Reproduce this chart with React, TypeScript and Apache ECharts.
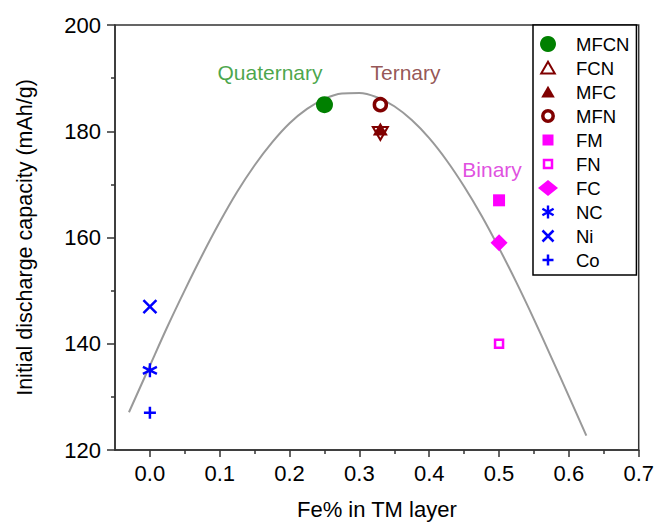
import React, { useEffect, useRef } from 'react';
import * as echarts from 'echarts';

// ---------- data ----------
const seriesNames = ['MFCN', 'FCN', 'MFC', 'MFN', 'FM', 'FN', 'FC', 'NC', 'Ni', 'Co'];
const feFraction = [0.25, 0.33, 0.33, 0.33, 0.5, 0.5, 0.5, 0, 0, 0];
const capacity = [185, 180, 180, 185, 167, 140, 159, 135, 147, 127];

// guide curve
const curveX = [
  -0.03, 0, 0.025, 0.05, 0.075, 0.1, 0.125, 0.15, 0.175, 0.2, 0.225, 0.25, 0.275, 0.3,
  0.325, 0.35, 0.375, 0.4, 0.425, 0.45, 0.475, 0.5, 0.525, 0.55, 0.575, 0.6, 0.625,
];
const curveY = [
  127.1, 135.9, 143.2, 150.1, 156.7, 162.9, 168.6, 173.6, 177.9, 181.5, 184.2, 186.1, 187.1, 187.2,
  186.4, 184.7, 182.1, 178.7, 174.5, 169.6, 164.1, 158.0, 151.5, 144.6, 137.4, 130.1, 122.7,
];

const annotationText = ['Quaternary', 'Ternary', 'Binary'];
const annotationX = [0.172, 0.366, 0.49];
const annotationY = [191, 191, 172.8];

const xMajorTicks = [0, 0.1, 0.2, 0.3, 0.4, 0.5, 0.6, 0.7];
const xMinorTicks = [0.05, 0.15, 0.25, 0.35, 0.45, 0.55, 0.65];
const yTicks = [120, 140, 160, 180, 200];

// ---------- styles ----------
const FONT = '"Liberation Sans", Arial, Helvetica, sans-serif';
const AXIS = '#333333';
const GREEN = '#008000';
const MAROON = '#800000';
const MAGENTA = '#ff00ff';
const BLUE = '#0000ff';
const CLEAR = 'rgba(255,255,255,0)';

const ASTERISK = 'path://M0,-10L0,10M-8.66,-5L8.66,5M-8.66,5L8.66,-5';
const CROSS = 'path://M-1,-1L1,1M-1,1L1,-1';
const PLUS = 'path://M0,-1L0,1M-1,0L1,0';

// legend icons drawn inside a 16x16 box (the leading moves fix the box)
const BOX = 'M0,0M16,16';
const legendIcons: Record<string, string> = {
  MFCN: 'circle',
  FCN: `path://${BOX}M8,1.8L14.8,13.6L1.2,13.6Z`,
  MFC: `path://${BOX}M8,1.8L14.8,13.6L1.2,13.6Z`,
  MFN: `path://${BOX}M13.2,8A5.2,5.2,0,1,1,2.8,8A5.2,5.2,0,1,1,13.2,8Z`,
  FM: `path://${BOX}M2.5,2.5L13.5,2.5L13.5,13.5L2.5,13.5Z`,
  FN: `path://${BOX}M4,4L12,4L12,12L4,12Z`,
  FC: 'diamond',
  NC: `path://${BOX}M8,1.5L8,14.5M2.4,4.8L13.6,11.2M2.4,11.2L13.6,4.8`,
  Ni: `path://${BOX}M2.5,2.5L13.5,13.5M2.5,13.5L13.5,2.5`,
  Co: `path://${BOX}M8,2.5L8,13.5M2.5,8L13.5,8`,
};

const markerStyles: Record<string, any> = {
  MFCN: { symbol: 'circle', size: 17, fill: GREEN, stroke: GREEN, bw: 0 },
  FCN: { symbol: 'triangle', size: [15, 13], rotate: 180, offset: [0, 2.2], fill: CLEAR, stroke: MAROON, bw: 2 },
  MFC: { symbol: 'triangle', size: [15, 13], offset: [0, -2.2], fill: MAROON, stroke: MAROON, bw: 0 },
  MFN: { symbol: 'circle', size: 12, fill: '#ffffff', stroke: MAROON, bw: 3.5 },
  FM: { symbol: 'rect', size: 12, fill: MAGENTA, stroke: MAGENTA, bw: 0 },
  FN: { symbol: 'rect', size: 8, fill: '#ffffff', stroke: MAGENTA, bw: 2.5 },
  FC: { symbol: 'diamond', size: 17, fill: MAGENTA, stroke: MAGENTA, bw: 0 },
  NC: { symbol: ASTERISK, size: 14, fill: CLEAR, stroke: BLUE, bw: 2.4 },
  Ni: { symbol: CROSS, size: 13, fill: CLEAR, stroke: BLUE, bw: 2.5 },
  Co: { symbol: PLUS, size: 12, fill: CLEAR, stroke: BLUE, bw: 2.5 },
};
const annotationColors = ['#1a8f1a', '#7a2a2a', '#d822d8'];

function buildOption(): any {
  const pointSeries = seriesNames.map((name, i) => {
    const s = markerStyles[name];
    return {
      name,
      type: 'scatter',
      data: [[feFraction[i], capacity[i]]],
      symbol: s.symbol,
      symbolSize: s.size,
      symbolRotate: s.rotate || 0,
      symbolOffset: s.offset || [0, 0],
      itemStyle: { color: s.fill, borderColor: s.stroke, borderWidth: s.bw, opacity: 1 },
      emphasis: { disabled: true },
      z: 3,
    };
  });

  return {
    animation: false,
    backgroundColor: '#ffffff',
    textStyle: { fontFamily: FONT },
    grid: {
      left: 115,
      right: 17,
      top: 25,
      bottom: 72.5,
      show: true,
      borderColor: AXIS,
      borderWidth: 1.5,
      backgroundColor: 'transparent',
    },
    legend: {
      data: seriesNames.map((name) => ({ name, icon: legendIcons[name] })),
      orient: 'vertical',
      left: 533,
      top: 25,
      padding: [7, 7, 3, 5],
      itemWidth: 20,
      itemHeight: 16,
      itemGap: 0,
      borderColor: '#000',
      borderWidth: 1.5,
      backgroundColor: '#ffffff',
      selectedMode: false,
      itemStyle: { borderWidth: 'inherit' },
      textStyle: {
        fontSize: 18.5,
        color: '#000',
        fontFamily: FONT,
        lineHeight: 24,
        padding: [0, 0, 0, 13],
      },
    },
    xAxis: [
      {
        type: 'value',
        min: -0.05,
        max: 0.7,
        position: 'bottom',
        name: 'Fe% in TM layer',
        nameLocation: 'middle',
        nameGap: 48,
        nameTextStyle: { fontSize: 22, color: '#000', fontFamily: FONT },
        axisLine: { show: true, onZero: false, lineStyle: { color: AXIS, width: 1.5 } },
        axisTick: { show: true, customValues: xMajorTicks, length: 7, lineStyle: { color: AXIS, width: 1.5 } },
        axisLabel: {
          customValues: xMajorTicks,
          formatter: (v: number) => v.toFixed(1),
          fontSize: 22,
          color: '#000',
          margin: 12,
          fontFamily: FONT,
        },
        splitLine: { show: false },
      },
      {
        type: 'value',
        min: -0.05,
        max: 0.7,
        position: 'bottom',
        axisLine: { show: false },
        axisTick: { show: true, customValues: xMinorTicks, length: 4, lineStyle: { color: AXIS, width: 1.5 } },
        axisLabel: { show: false },
        splitLine: { show: false },
      },
    ],
    yAxis: {
      type: 'value',
      min: yTicks[0],
      max: yTicks[yTicks.length - 1],
      interval: yTicks[1] - yTicks[0],
      name: 'Initial discharge capacity (mAh/g)',
      nameLocation: 'middle',
      nameGap: 79,
      nameTextStyle: { fontSize: 21.5, color: '#000', fontFamily: FONT },
      axisLine: { show: true, onZero: false, lineStyle: { color: AXIS, width: 1.5 } },
      axisTick: { show: true, length: 8, lineStyle: { color: AXIS, width: 1.5 } },
      minorTick: { show: true, splitNumber: 2, length: 4, lineStyle: { color: AXIS, width: 1.5 } },
      axisLabel: { fontSize: 22, color: '#000', margin: 14, fontFamily: FONT },
      splitLine: { show: false },
      minorSplitLine: { show: false },
    },
    series: [
      {
        name: 'curve',
        type: 'line',
        data: curveX.map((x, i) => [x, curveY[i]]),
        smooth: 0.3,
        showSymbol: false,
        symbol: 'none',
        lineStyle: { color: '#999999', width: 2 },
        emphasis: { disabled: true },
        silent: true,
        z: 1,
      },
      ...pointSeries,
      {
        name: 'annotations',
        type: 'scatter',
        symbolSize: 0,
        silent: true,
        data: annotationText.map((t, i) => ({
          value: [annotationX[i], annotationY[i]],
          label: {
            show: true,
            position: 'inside',
            formatter: t,
            color: annotationColors[i],
            fontSize: 21,
            fontFamily: FONT,
          },
        })),
        z: 4,
      },
    ],
  };
}

export default function App() {
  const ref = useRef<HTMLDivElement>(null);
  useEffect(() => {
    if (!ref.current) return;
    const chart = echarts.init(ref.current, null, { renderer: 'svg' });
    chart.setOption(buildOption());
    return () => chart.dispose();
  }, []);
  return (
    <div
      ref={ref}
      style={{ position: 'fixed', left: 0, top: 0, width: 657, height: 525, background: '#fff' }}
    />
  );
}
